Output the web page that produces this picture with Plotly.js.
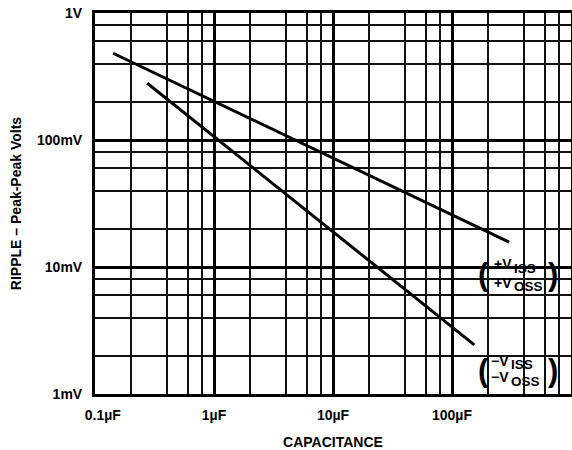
<!DOCTYPE html>
<html>
<head>
<meta charset="utf-8">
<script src="https://cdn.plot.ly/plotly-3.0.1.min.js"></script>
<style>
  html, body { margin: 0; padding: 0; background: #fff; }
  #chart { width: 572px; height: 450px; }
</style>
</head>
<body>
<div id="chart"></div>
<script>
// Capacitance in µF, ripple in mV (peak-peak)
const capPos = [0.142, 302];
const ripplePos = [482, 15.7];
const capNeg = [0.275, 154];
const rippleNeg = [280, 2.44];

const xTickVals = [0.1, 1, 10, 100];
const xTickText = ['\u00a0\u00a0\u00a0\u00a00.1µF', '1µF', '10µF', '100µF'];
const yTickVals = [1, 10, 100, 1000];
const yTickText = ['1mV', '10mV', '100mV', '1V'];
const xMinorGrid = [0.2, 0.4, 0.6, 0.8, 2, 4, 6, 8, 20, 40, 60, 80, 200, 400, 600, 800];
const yMinorGrid = [2, 4, 6, 8, 20, 40, 60, 80, 200, 400, 600, 800];

// Label pieces: main symbol and subscript for each line
const posMain = ['+V', '+V'];
const posSub = ['ISS', 'OSS'];
const negMain = ['\u2212V', '\u2212V'];
const negSub = ['ISS', 'OSS'];

const font = 'Arial, Liberation Sans, Helvetica, sans-serif';
const boldFont = (size) => ({ family: font, size: size, color: '#000', weight: 700 });

const traces = [
  { x: capPos, y: ripplePos, type: 'scatter', mode: 'lines',
    line: { color: '#000', width: 3 }, hoverinfo: 'skip', showlegend: false },
  { x: capNeg, y: rippleNeg, type: 'scatter', mode: 'lines',
    line: { color: '#000', width: 3 }, hoverinfo: 'skip', showlegend: false }
];

const axisCommon = {
  type: 'log',
  showgrid: true, gridcolor: '#000', gridwidth: 3,
  showline: true, linecolor: '#000', linewidth: 3, mirror: true,
  zeroline: false, ticks: '',
  tickfont: boldFont(14),
  fixedrange: true
};

// label layout (log10 axis units): junction x, main y / sub y per line
function labelAnns(mains, subs, xj, mainYs, subYs) {
  const out = [];
  for (let i = 0; i < mains.length; i++) {
    out.push({ xref: 'x', yref: 'y', x: xj, y: mainYs[i], text: mains[i], showarrow: false,
      xanchor: 'right', yanchor: 'middle', borderpad: 0, font: boldFont(14) });
    out.push({ xref: 'x', yref: 'y', x: xj, y: subYs[i], text: subs[i], showarrow: false,
      xanchor: 'left', yanchor: 'middle', borderpad: 0, font: boldFont(13.5) });
  }
  return out;
}

const parenAnn = (t, x, y) => ({ xref: 'x', yref: 'y', x: x, y: y, text: t, showarrow: false,
  xanchor: 'center', yanchor: 'middle', borderpad: 0, font: boldFont(31) });

const layout = {
  width: 572, height: 450,
  margin: { l: 95, r: 1, t: 13, b: 56 },
  paper_bgcolor: '#fff', plot_bgcolor: '#fff',
  showlegend: false,
  xaxis: Object.assign({}, axisCommon, {
    range: [-1, 3],
    tickmode: 'array', tickvals: xTickVals, ticktext: xTickText,
    ticklabelstandoff: 6,
    minor: { tickmode: 'array', tickvals: xMinorGrid, showgrid: true, gridcolor: '#111', gridwidth: 2, ticks: '' },
    title: { text: 'CAPACITANCE', standoff: 16, font: boldFont(14) }
  }),
  yaxis: Object.assign({}, axisCommon, {
    range: [0, 3],
    tickmode: 'array', tickvals: yTickVals, ticktext: yTickText,
    ticklabelstandoff: 7,
    minor: { tickmode: 'array', tickvals: yMinorGrid, showgrid: true, gridcolor: '#111', gridwidth: 2, ticks: '' },
    title: { text: 'RIPPLE \u2013 Peak-Peak Volts', standoff: 13, font: boldFont(14) }
  }),
  shapes: [
    { type: 'rect', xref: 'x', yref: 'y', x0: 2.235, x1: 2.882, y0: 0.795, y1: 1.110,
      fillcolor: '#fff', line: { width: 0 }, layer: 'above' },
    { type: 'rect', xref: 'x', yref: 'y', x0: 2.21, x1: 2.908, y0: 0.039, y1: 0.354,
      fillcolor: '#fff', line: { width: 0 }, layer: 'above' }
  ],
  annotations: []
    .concat(labelAnns(posMain, posSub, 2.515, [1.021, 0.876], [0.990, 0.850]))
    .concat(labelAnns(negMain, negSub, 2.487, [0.262, 0.131], [0.236, 0.102]))
    .concat([
      parenAnn('(', 2.268, 0.941), parenAnn(')', 2.845, 0.941),
      parenAnn('(', 2.262, 0.189), parenAnn(')', 2.845, 0.189)
    ])
};

Plotly.newPlot('chart', traces, layout, { staticPlot: true, displayModeBar: false });
</script>
</body>
</html>
